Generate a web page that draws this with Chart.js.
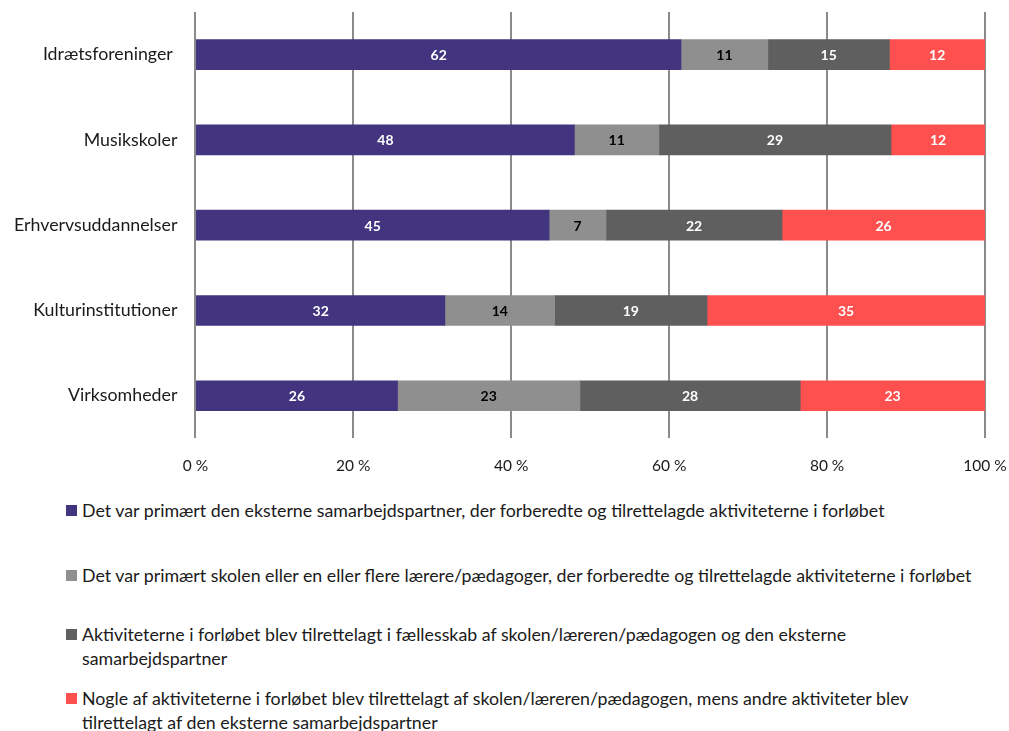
<!DOCTYPE html>
<html>
<head>
<meta charset="utf-8">
<script src="https://cdn.jsdelivr.net/npm/chart.js@4.4.1/dist/chart.umd.min.js"></script>
<style>
  html, body { margin: 0; overflow: hidden; background: #fff; font-family: Lato, sans-serif; }
  #wrap { position: absolute; left: 0; top: 0; width: 1009px; height: 496px; }
  #legend { position: absolute; left: 66px; top: 0; width: 940px; color: #1a1a1a; font-size: 17.8px; line-height: 24px; }
  .item { position: absolute; left: 0; padding-left: 16px; white-space: nowrap; }
  .item:nth-child(1) { top: 498px; }
  .item:nth-child(2) { top: 563px; }
  .item:nth-child(3) { top: 622px; }
  .item:nth-child(4) { top: 686px; }
  .item span.box { position: absolute; left: 0; top: 7px; width: 11px; height: 11px; }
</style>
</head>
<body>
<div id="wrap"><canvas id="chart" width="1009" height="496"></canvas></div>
<div id="legend"></div>
<script>
// kategorier og serier (andele i procent)
const categories = ["Idrætsforeninger ", "Musikskoler", "Erhvervsuddannelser", "Kulturinstitutioner", "Virksomheder"];
const seriesNames = [
  "Det var primært den eksterne samarbejdspartner, der forberedte og tilrettelagde aktiviteterne i forløbet",
  "Det var primært skolen eller en eller flere lærere/pædagoger, der forberedte og tilrettelagde aktiviteterne i forløbet",
  "Aktiviteterne i forløbet blev tilrettelagt i fællesskab af skolen/læreren/pædagogen og den eksterne<br>samarbejdspartner",
  "Nogle af aktiviteterne i forløbet blev tilrettelagt af skolen/læreren/pædagogen, mens andre aktiviteter blev<br>tilrettelagt af den eksterne samarbejdspartner"
];
const eksternValues = [61.5, 48.0, 44.8, 31.6, 25.6];
const skolenValues = [11.0, 10.7, 7.2, 13.9, 23.1];
const faellesValues = [15.4, 29.4, 22.3, 19.3, 27.9];
const blandetValues = [12.1, 11.9, 25.7, 35.2, 23.4];
const xTicks = [0, 20, 40, 60, 80, 100];

const colors = ["#42347f", "#8f8f8f", "#5f5f5f", "#ff5050"];
const labelColors = ["#ffffff", "#000000", "#ffffff", "#ffffff"];
const allValues = [eksternValues, skolenValues, faellesValues, blandetValues];

// tal inde i søjlerne
const barLabels = {
  id: "barLabels",
  afterDatasetsDraw(chart) {
    const ctx = chart.ctx;
    ctx.save();
    ctx.font = "bold 14px Lato, sans-serif";
    ctx.textAlign = "center";
    ctx.textBaseline = "middle";
    chart.data.datasets.forEach((ds, i) => {
      chart.getDatasetMeta(i).data.forEach((bar, j) => {
        const p = bar.getCenterPoint();
        ctx.fillStyle = labelColors[i];
        ctx.fillText(Math.round(ds.data[j]), p.x, p.y + 1);
      });
    });
    ctx.restore();
  }
};

new Chart(document.getElementById("chart"), {
  type: "bar",
  data: {
    labels: categories,
    datasets: allValues.map((vals, i) => ({
      label: seriesNames[i],
      data: vals,
      backgroundColor: colors[i],
      borderWidth: 0,
      barThickness: 30
    }))
  },
  options: {
    indexAxis: "y",
    responsive: false,
    animation: false,
    layout: { autoPadding: false, padding: { left: -4, top: 12, right: 24, bottom: 3 } },
    scales: {
      x: {
        stacked: true,
        min: 0,
        max: 100,
        afterBuildTicks(axis) { axis.ticks = xTicks.map(v => ({ value: v })); },
        afterFit(axis) { axis.paddingLeft = 0; axis.paddingRight = 0; },
        ticks: {
          color: "#1a1a1a",
          padding: 18,
          maxRotation: 0,
          font: { family: "Lato, sans-serif", size: 15.5 },
          callback: v => v + " %"
        },
        grid: { color: "#8a8a8a", lineWidth: 2, drawTicks: false },
        border: { display: false }
      },
      y: {
        stacked: true,
        afterFit(axis) { axis.paddingTop = 0; axis.paddingBottom = 0; },
        ticks: {
          color: "#1a1a1a",
          padding: 18,
          font: { family: "Lato, sans-serif", size: 17.8 }
        },
        grid: { display: false, drawTicks: false },
        border: { display: false }
      }
    },
    plugins: {
      legend: { display: false },
      tooltip: { enabled: false }
    }
  },
  plugins: [barLabels]
});

// forklaring under diagrammet
const legend = document.getElementById("legend");
seriesNames.forEach((name, i) => {
  const div = document.createElement("div");
  div.className = "item";
  div.innerHTML = '<span class="box" style="background:' + colors[i] + '"></span>' + name;
  legend.appendChild(div);
});
</script>
</body>
</html>
